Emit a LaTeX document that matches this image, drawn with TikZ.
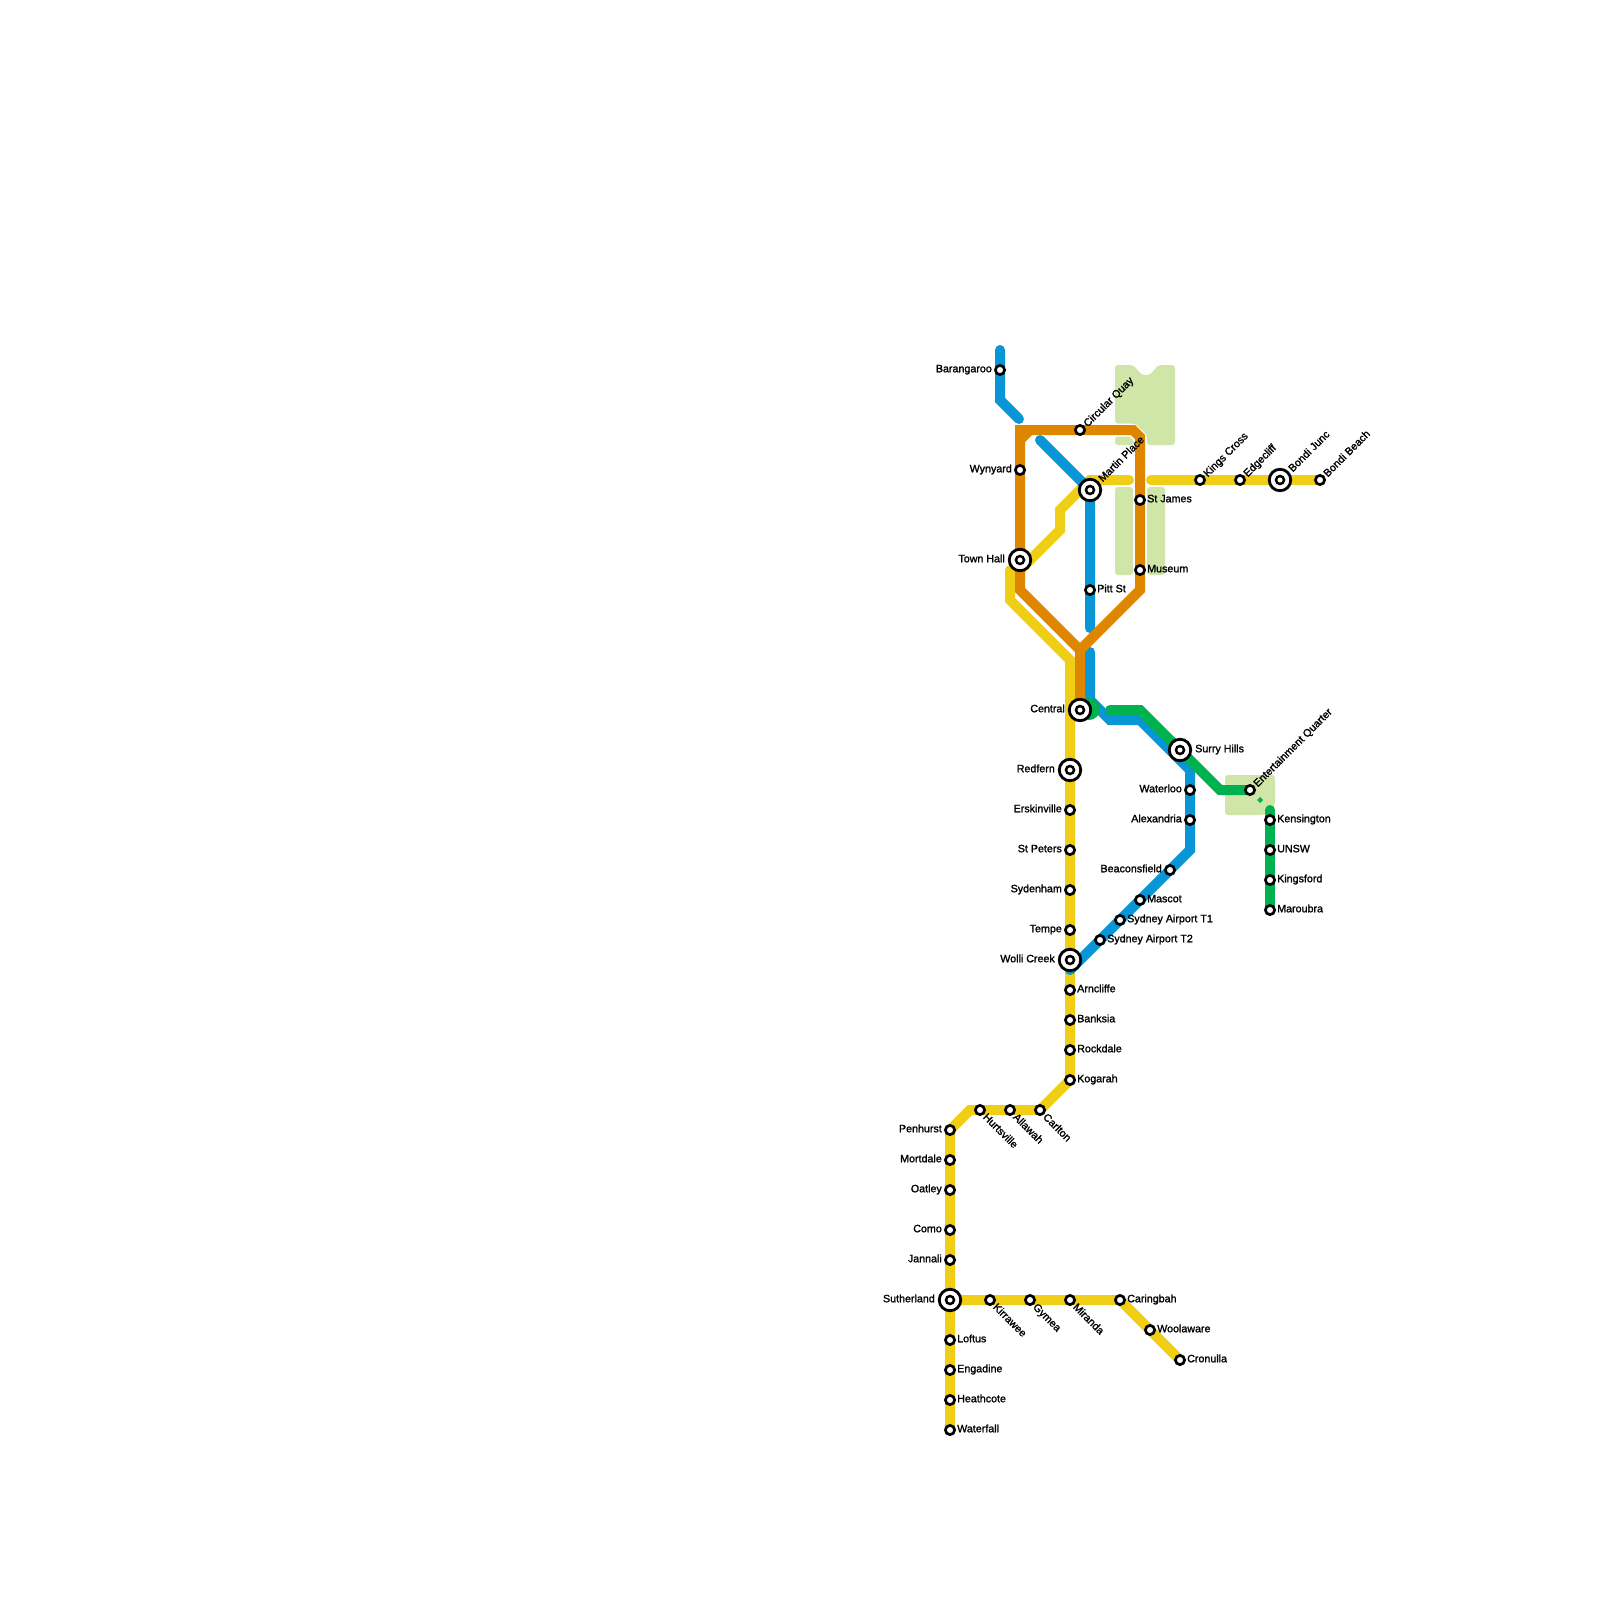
\documentclass[tikz,border=0pt]{standalone}
\usepackage{fontspec}
\newfontfamily\labfont[FakeBold=1.5]{Liberation Sans}
\definecolor{lyellow}{HTML}{F0CE15}
\definecolor{lorange}{HTML}{DF8600}
\definecolor{lblue}{HTML}{0896D7}
\definecolor{lgreen}{HTML}{00B150}
\definecolor{lpark}{HTML}{D0E6A8}
\pgfdeclarelayer{under}
\pgfsetlayers{under,main}
\tikzset{
  stn/.style={circle,draw=black,fill=white,line width=2.7pt,minimum size=9.2pt,inner sep=0pt},
  ix/.style={circle,draw=black,fill=white,line width=2.8pt,minimum size=21.5pt,inner sep=0pt,
    path picture={\draw[line width=2.5pt] (path picture bounding box.center) circle (4pt);}},
  lab/.style={font=\labfont\fontsize{10.7pt}{11pt}\selectfont,text=black,inner sep=0pt,text height=7.5pt,text depth=0pt},
  metro/.style={line width=10pt,line join=miter,line cap=round},
  park/.style={fill=lpark,rounded corners=3pt},
}
% name, position, text
\newcommand\sL[3]{\node[stn] (#1) at (#2) {}; \node[lab,anchor=east] (#1t) at ([shift={(-8,-1.5)}]#1.center) {#3};}
\newcommand\sR[3]{\node[stn] (#1) at (#2) {}; \node[lab,anchor=west] (#1t) at ([shift={(7,-1.5)}]#1.center) {#3};}
\newcommand\sU[3]{\node[stn] (#1) at (#2) {}; \node[lab,anchor=west,rotate=45] (#1t) at ([shift={(5,-5)}]#1.center) {#3};}
\newcommand\sD[3]{\node[stn] (#1) at (#2) {}; \node[lab,anchor=west,rotate=-45] (#1t) at ([shift={(5,5)}]#1.center) {#3};}
\newcommand\iL[3]{\node[ix] (#1) at (#2) {}; \node[lab,anchor=east] (#1t) at ([shift={(-15,-1.5)}]#1.center) {#3};}
\newcommand\iR[3]{\node[ix] (#1) at (#2) {}; \node[lab,anchor=west] (#1t) at ([shift={(15,-1.5)}]#1.center) {#3};}
\newcommand\iU[3]{\node[ix] (#1) at (#2) {}; \node[lab,anchor=west,rotate=45] (#1t) at ([shift={(10,-10)}]#1.center) {#3};}
\begin{document}
\begin{tikzpicture}[x=1pt,y=-1pt]
\useasboundingbox (0,0) rectangle (1600,1600);
% stations
\sL{barangaroo}{1000,370}{Barangaroo}
\sU{circular}{1080,430}{Circular Quay}
\sL{wynyard}{1020,470}{Wynyard}
\iU{martin}{1090,490}{Martin Place}
\sR{stjames}{1140,500}{St James}
\iL{townhall}{1020,560}{Town Hall}
\sR{museum}{1140,570}{Museum}
\sR{pitt}{1090,590}{Pitt St}
\sU{kings}{1200,480}{Kings Cross}
\sU{edge}{1240,480}{Edgecliff}
\iU{bondij}{1280,480}{Bondi Junc}
\sU{bondib}{1320,480}{Bondi Beach}
\iL{central}{1080,710}{Central}
\iR{surry}{1180,750}{Surry Hills}
\iL{redfern}{1070,770}{Redfern}
\sL{waterloo}{1190,790}{Waterloo}
\sL{alexandria}{1190,820}{Alexandria}
\sL{beacons}{1170,870}{Beaconsfield}
\sR{mascot}{1140,900}{Mascot}
\sR{tone}{1120,920}{Sydney Airport T1}
\sR{ttwo}{1100,940}{Sydney Airport T2}
\sU{entq}{1250,790}{Entertainment Quarter}
\sR{kens}{1270,820}{Kensington}
\sR{unsw}{1270,850}{UNSW}
\sR{kingsford}{1270,880}{Kingsford}
\sR{maroubra}{1270,910}{Maroubra}
\sL{erskine}{1070,810}{Erskinville}
\sL{stpeters}{1070,850}{St Peters}
\sL{sydenham}{1070,890}{Sydenham}
\sL{tempe}{1070,930}{Tempe}
\iL{wolli}{1070,960}{Wolli Creek}
\sR{arncliffe}{1070,990}{Arncliffe}
\sR{banksia}{1070,1020}{Banksia}
\sR{rockdale}{1070,1050}{Rockdale}
\sR{kogarah}{1070,1080}{Kogarah}
\sD{carlton}{1040,1110}{Carlton}
\sD{allawah}{1010,1110}{Allawah}
\sD{hurst}{980,1110}{Hurtsville}
\sL{penhurst}{950,1130}{Penhurst}
\sL{mortdale}{950,1160}{Mortdale}
\sL{oatley}{950,1190}{Oatley}
\sL{como}{950,1230}{Como}
\sL{jannali}{950,1260}{Jannali}
\iL{suth}{950,1300}{Sutherland}
\sR{loftus}{950,1340}{Loftus}
\sR{engadine}{950,1370}{Engadine}
\sR{heathcote}{950,1400}{Heathcote}
\sR{waterfall}{950,1430}{Waterfall}
\sD{kirrawee}{990,1300}{Kirrawee}
\sD{gymea}{1030,1300}{Gymea}
\sD{miranda}{1070,1300}{Miranda}
\sR{caringbah}{1120,1300}{Caringbah}
\sR{woolaware}{1150,1330}{Woolaware}
\sR{cronulla}{1180,1360}{Cronulla}
% bends and free ends
\coordinate (b1) at (1000,350); \coordinate (b2) at (1000,400); \coordinate (b3) at (1019,419);
\coordinate (b4) at (1040,440); \coordinate (b5) at (1090,628); \coordinate (b6) at (1090,652);
\coordinate (b7) at (1090,700); \coordinate (b8) at (1110,720); \coordinate (b9) at (1140,720);
\coordinate (b10) at (1190,770); \coordinate (b11) at (1190,850); \coordinate (b12) at (1070,970);
\coordinate (y1) at (1010,570); \coordinate (y2) at (1010,600); \coordinate (y3) at (1070,660);
\coordinate (y4) at (970,1110);
\coordinate (y5) at (1020,570); \coordinate (y6) at (1060,530); \coordinate (y7) at (1060,510);
\coordinate (y8) at (1090,480); \coordinate (y9) at (1129,480); \coordinate (y10) at (1151,480);
\coordinate (o1) at (1080,650); \coordinate (o2) at (1020,590); \coordinate (o3) at (1020,430);
\coordinate (o4) at (1133,430); \coordinate (o5) at (1140,437); \coordinate (o6) at (1140,590);
\coordinate (o7) at (1020,440); \coordinate (o8) at (1030,430);
\coordinate (g1) at (1110,710); \coordinate (g2) at (1140,710); \coordinate (g3) at (1220,790);
\coordinate (g4) at (1270,810); \coordinate (gb) at (1089,709);
\begin{pgfonlayer}{under}
% parks
\fill[park] (1115,365) -- (1133,365) -- (1142,375) -- (1150,375) -- (1158,365) -- (1175,365) -- (1175,445) -- (1147,445) -- (1147,435) -- (1135,423.5) -- (1115,423.5) -- cycle;
\fill[park] (1115,436.5) -- (1130,436.5) -- (1134,441) -- (1134,445) -- (1115,445) -- cycle;
\fill[park] (1115,487) rectangle (1133,575);
\fill[park] (1147,487) rectangle (1165,575);
\fill[park] (1225,775) -- (1275,775) -- (1275,805) -- (1265,815) -- (1225,815) -- cycle;
\fill[lgreen] (1260,797) -- (1263,800) -- (1260,803) -- (1257,800) -- cycle;
% yellow
\draw[metro,lyellow] (y1) -- (y2) -- (y3) -- (kogarah.center) -- (carlton.center) -- (y4) -- (penhurst.center) -- (waterfall.center);
\draw[metro,lyellow] (suth.center) -- (caringbah.center) -- (cronulla.center);
\draw[metro,lyellow] (y5) -- (y6) -- (y7) -- (y8) -- (y9);
\draw[metro,lyellow] (y10) -- (bondib.center);
% blue
\draw[metro,lblue] (b1) -- (b2) -- (b3);
\draw[metro,lblue] (b4) -- (martin.center) -- (b5);
\draw[metro,lblue] (b6) -- (b7) -- (b8) -- (b9) -- (b10) -- (b11) -- (b12);
% green
\fill[lgreen] (gb) circle (11pt);
\draw[metro,lgreen] (g1) -- (g2) -- (g3) -- (entq.center);
\draw[metro,lgreen] (g4) -- (maroubra.center);
% orange
\draw[metro,lorange,line cap=butt] (central.center) -- (o1) -- (o2) -- (o3) -- (o4) -- (o5) -- (o6) -- (o1);
\draw[line width=10pt,lorange] (o7) -- (o8);
\end{pgfonlayer}
\end{tikzpicture}
\end{document}
